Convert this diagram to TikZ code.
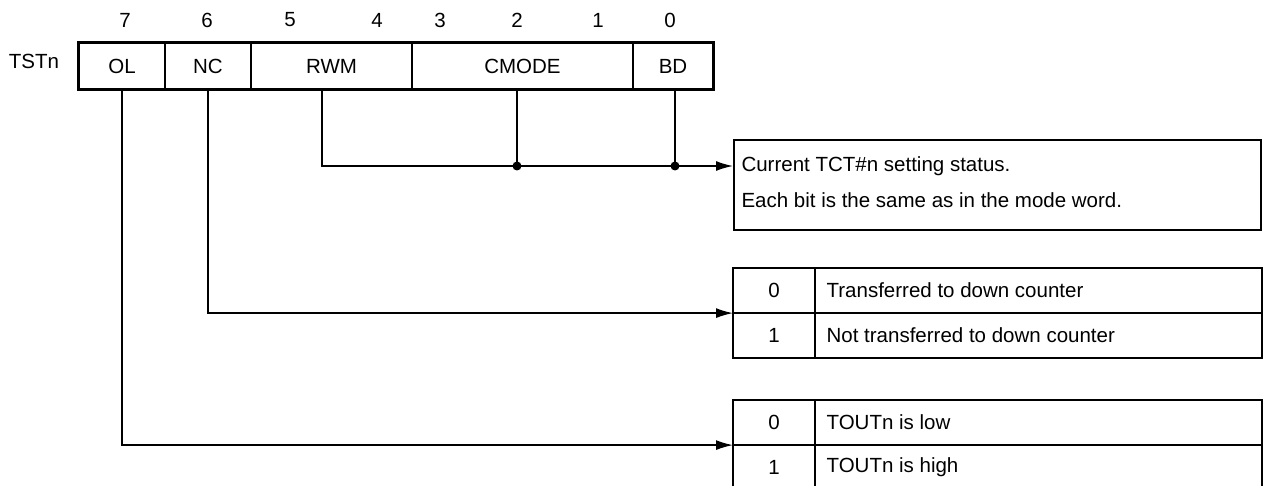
\documentclass[tikz,border=0pt]{standalone}
\usepackage{fontspec}
\setmainfont{Liberation Sans}
\usetikzlibrary{arrows.meta}

\begin{document}
\begin{tikzpicture}[x=1pt, y=-1pt, every node/.style={font=\fontsize{20.5}{24}\selectfont},
    cell/.style={draw, line width=1.1pt, minimum height=46pt, inner sep=0pt},
    row/.style={draw, line width=1.1pt, minimum height=44pt, inner sep=0pt, anchor=north west},
    conn/.style={line width=1.5pt, -{Latex[length=17pt,width=10pt]}},
    dot/.style={circle, fill=black, inner sep=0pt, minimum size=9pt}]
    \useasboundingbox (0,0) rectangle (1264,486);

    % register
    \node (tst) at (34,61) {TSTn};
    \node[cell, minimum width=86pt]  (ol)    at (122,66)   {OL};
    \node[cell, minimum width=86pt]  (nc)    at (208,66)   {NC};
    \node[cell, minimum width=161pt] (rwm)   at (331.5,66) {RWM};
    \node[cell, minimum width=221pt] (cmode) at (522.5,66) {CMODE};
    \node[cell, minimum width=80pt]  (bd)    at (673,66)   {BD};
    \draw[line width=2.4pt] (ol.north west) rectangle (bd.south east);

    % bit numbers
    \node (b7) at (125,20) {7};
    \node (b6) at (207,20) {6};
    \node (b5) at (290,20) {5};
    \node (b4) at (377,20) {4};
    \node (b3) at (440,20) {3};
    \node (b2) at (517,20) {2};
    \node (b1) at (598,20) {1};
    \node (b0) at (670,20) {0};

    % status box
    \node[draw, line width=2.2pt, minimum width=527pt, minimum height=90pt, inner sep=0pt, anchor=north west] (cur) at (733,139) {};
    \node[anchor=west] (cur1) at (738,166) {Current TCT\#n setting status.};
    \node[anchor=west] (cur2) at (738,200) {Each bit is the same as in the mode word.};

    % NC table
    \node[row, minimum width=81pt]  (nc0) at (733,268) {0};
    \node[row, minimum width=446pt] (nc0t) at (nc0.north east) {};
    \node[row, minimum width=81pt]  (nc1) at (nc0.south west) {1};
    \node[row, minimum width=446pt] (nc1t) at (nc1.north east) {};
    \node[anchor=west] at ([xshift=8pt]nc0t.west) {Transferred to down counter};
    \node[anchor=west] at ([xshift=8pt]nc1t.west) {Not transferred to down counter};
    \draw[line width=2.2pt] (nc0.north west) rectangle (nc1t.south east);

    % OL table
    \node[row, minimum width=81pt]  (ol0) at (733,400) {0};
    \node[row, minimum width=446pt] (ol0t) at (ol0.north east) {};
    \node[row, minimum width=81pt]  (ol1) at (ol0.south west) {1};
    \node[row, minimum width=446pt] (ol1t) at (ol1.north east) {};
    \node[anchor=west] at ([xshift=8pt]ol0t.west) {TOUTn is low};
    \node[anchor=west] at ([xshift=8pt]ol1t.west) {TOUTn is high};
    \draw[line width=2.2pt] (ol0.north west) rectangle (ol1t.south east);

    % connectors
    \coordinate (rwmtap) at (322,89);
    \coordinate (cmtap) at (517,89);
    \coordinate (bdtap) at (675,89);
    \coordinate (curin) at (733,166);
    \draw[conn] (rwmtap) |- (curin);
    \draw[line width=1.5pt] (cmtap) -- (cmtap |- curin);
    \draw[line width=1.5pt] (bdtap) -- (bdtap |- curin);
    \node[dot] (d1) at (cmtap |- curin) {};
    \node[dot] (d2) at (bdtap |- curin) {};

    \draw[conn] (nc.south) |- (nc0.south west);
    \draw[conn] (ol.south) |- (ol0.south west);
\end{tikzpicture}
\end{document}
